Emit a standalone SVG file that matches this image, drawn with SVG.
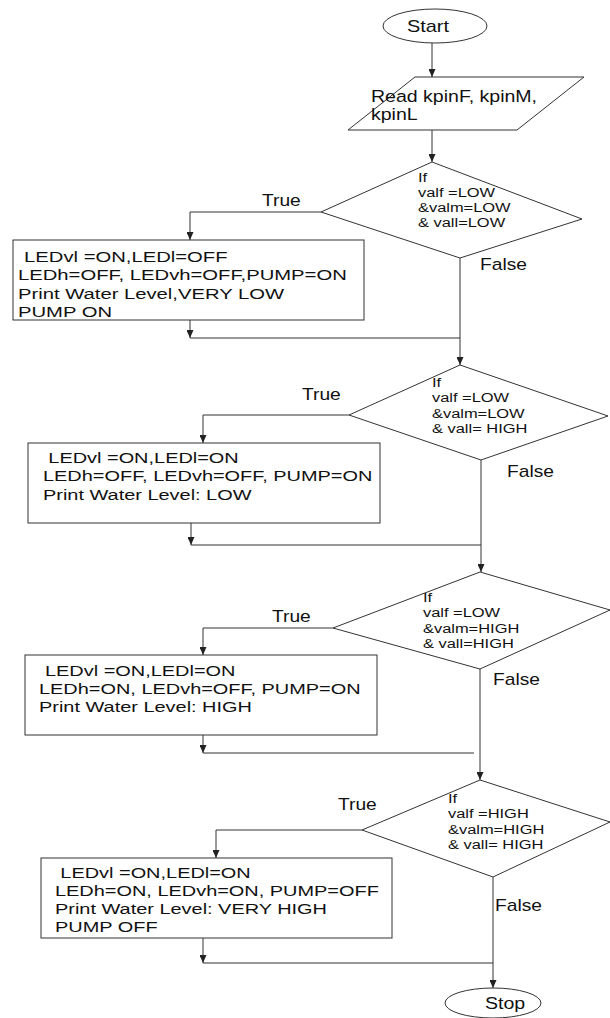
<svg xmlns="http://www.w3.org/2000/svg" width="610" height="1018" viewBox="0 0 610 1018">
<defs>
<marker id="ah" markerWidth="8" markerHeight="7" refX="8" refY="3.5" orient="auto" markerUnits="userSpaceOnUse">
<path d="M0,0 L8,3.5 L0,7 z" fill="#222"/>
</marker>
<style>
.s{fill:#fff;stroke:#333;stroke-width:1}
.c{fill:none;stroke:#333;stroke-width:1}
.a{marker-end:url(#ah)}
text{font-family:"Liberation Sans",Arial,sans-serif;fill:#111}
.bt{font-size:15px}
.dt{font-size:12px}
.lb{font-size:16px}
.tt{font-size:17px}
</style>
</defs>
<rect width="610" height="1018" fill="#fff"/>
<g id="connectors">
<path class="c a" d="M432,43 V77"/>
<path class="c a" d="M432,130 V162"/>
<path class="c a" d="M321,212 H190 V240"/>
<path class="c a" d="M190,320 V338"/>
<path class="c" d="M190,338 H460"/>
<path class="c a" d="M460,258 V365"/>
<path class="c a" d="M349,415 H203 V443"/>
<path class="c a" d="M191,523 V545"/>
<path class="c" d="M191,545 H481"/>
<path class="c a" d="M481,460 V572"/>
<path class="c a" d="M333,628 H203 V655"/>
<path class="c a" d="M203,735 V753"/>
<path class="c" d="M203,753 H474"/>
<path class="c a" d="M480,669 V780"/>
<path class="c a" d="M362,830 H216 V858"/>
<path class="c a" d="M203,938 V963"/>
<path class="c" d="M203,963 H493"/>
<path class="c a" d="M493,877 V988"/>
<text class="lb" transform="translate(262,206) scale(1.2,1)">True</text>
<text class="lb" transform="translate(480,270) scale(1.2,1)">False</text>
<text class="lb" transform="translate(302,400) scale(1.2,1)">True</text>
<text class="lb" transform="translate(507,477) scale(1.2,1)">False</text>
<text class="lb" transform="translate(272,622) scale(1.2,1)">True</text>
<text class="lb" transform="translate(493,685) scale(1.2,1)">False</text>
<text class="lb" transform="translate(338,810) scale(1.2,1)">True</text>
<text class="lb" transform="translate(495,911) scale(1.2,1)">False</text>
</g>
<g id="start">
<ellipse class="s" cx="435" cy="26" rx="52" ry="17"/>
<text class="tt" transform="translate(407,32) scale(1.17,1)">Start</text>
</g>
<g id="read">
<polygon class="s" points="415,77 584,77 517,130 348,130"/>
<text class="tt" transform="translate(371,102) scale(1.15,1)"><tspan x="0" y="0">Read kpinF, kpinM,</tspan><tspan x="0" y="18">kpinL</tspan></text>
</g>
<g id="decision1">
<polygon class="s" points="432,162 582,219 460,258 321,212"/>
<text class="dt" transform="translate(418,182) scale(1.37,1)"><tspan x="0" y="0">If</tspan><tspan x="0" y="15">valf =LOW</tspan><tspan x="0" y="30">&amp;valm=LOW</tspan><tspan x="0" y="45">&amp; vall=LOW</tspan></text>
</g>
<g id="box1">
<rect class="s" x="13" y="240" width="351" height="80"/>
<text class="bt" transform="translate(18,262) scale(1.35,1)"><tspan x="4.5" y="0">LEDvl =ON,LEDl=OFF</tspan><tspan x="0" y="18.3">LEDh=OFF, LEDvh=OFF,PUMP=ON</tspan><tspan x="0" y="36.6">Print Water Level,VERY LOW</tspan><tspan x="0" y="54.9">PUMP ON</tspan></text>
</g>
<g id="decision2">
<polygon class="s" points="460,365 608,416 481,460 349,415"/>
<text class="dt" transform="translate(432,387) scale(1.37,1)"><tspan x="0" y="0">If</tspan><tspan x="0" y="15.5">valf =LOW</tspan><tspan x="0" y="31">&amp;valm=LOW</tspan><tspan x="0" y="46.5">&amp; vall= HIGH</tspan></text>
</g>
<g id="box2">
<rect class="s" x="28" y="443" width="352" height="80"/>
<text class="bt" transform="translate(43,463) scale(1.33,1)"><tspan x="4" y="0">LEDvl =ON,LEDl=ON</tspan><tspan x="0" y="18.5">LEDh=OFF, LEDvh=OFF, PUMP=ON</tspan><tspan x="0" y="37">Print Water Level: LOW</tspan></text>
</g>
<g id="decision3">
<polygon class="s" points="480,572 610,610 480,669 333,628"/>
<text class="dt" transform="translate(423,602) scale(1.37,1)"><tspan x="0" y="0">If</tspan><tspan x="0" y="15.5">valf =LOW</tspan><tspan x="0" y="31">&amp;valm=HIGH</tspan><tspan x="0" y="46.5">&amp; vall=HIGH</tspan></text>
</g>
<g id="box3">
<rect class="s" x="25" y="655" width="352" height="80"/>
<text class="bt" transform="translate(39,676) scale(1.33,1)"><tspan x="4.5" y="0">LEDvl =ON,LEDl=ON</tspan><tspan x="0" y="18.5">LEDh=ON, LEDvh=OFF, PUMP=ON</tspan><tspan x="0" y="36.5">Print Water Level: HIGH</tspan></text>
</g>
<g id="decision4">
<polygon class="s" points="480,780 610,822 493,877 362,830"/>
<text class="dt" transform="translate(448,803) scale(1.37,1)"><tspan x="0" y="0">If</tspan><tspan x="0" y="15.3">valf =HIGH</tspan><tspan x="0" y="30.6">&amp;valm=HIGH</tspan><tspan x="0" y="45.9">&amp; vall= HIGH</tspan></text>
</g>
<g id="box4">
<rect class="s" x="41" y="858" width="351" height="80"/>
<text class="bt" transform="translate(55,878) scale(1.33,1)"><tspan x="4" y="0">LEDvl =ON,LEDl=ON</tspan><tspan x="0" y="18.3">LEDh=ON, LEDvh=ON, PUMP=OFF</tspan><tspan x="0" y="35.6">Print Water Level: VERY HIGH</tspan><tspan x="0" y="53.9">PUMP OFF</tspan></text>
</g>
<g id="stop">
<ellipse class="s" cx="493" cy="1003" rx="48" ry="15"/>
<text class="tt" transform="translate(485,1009) scale(1.15,1)">Stop</text>
</g>
</svg>
